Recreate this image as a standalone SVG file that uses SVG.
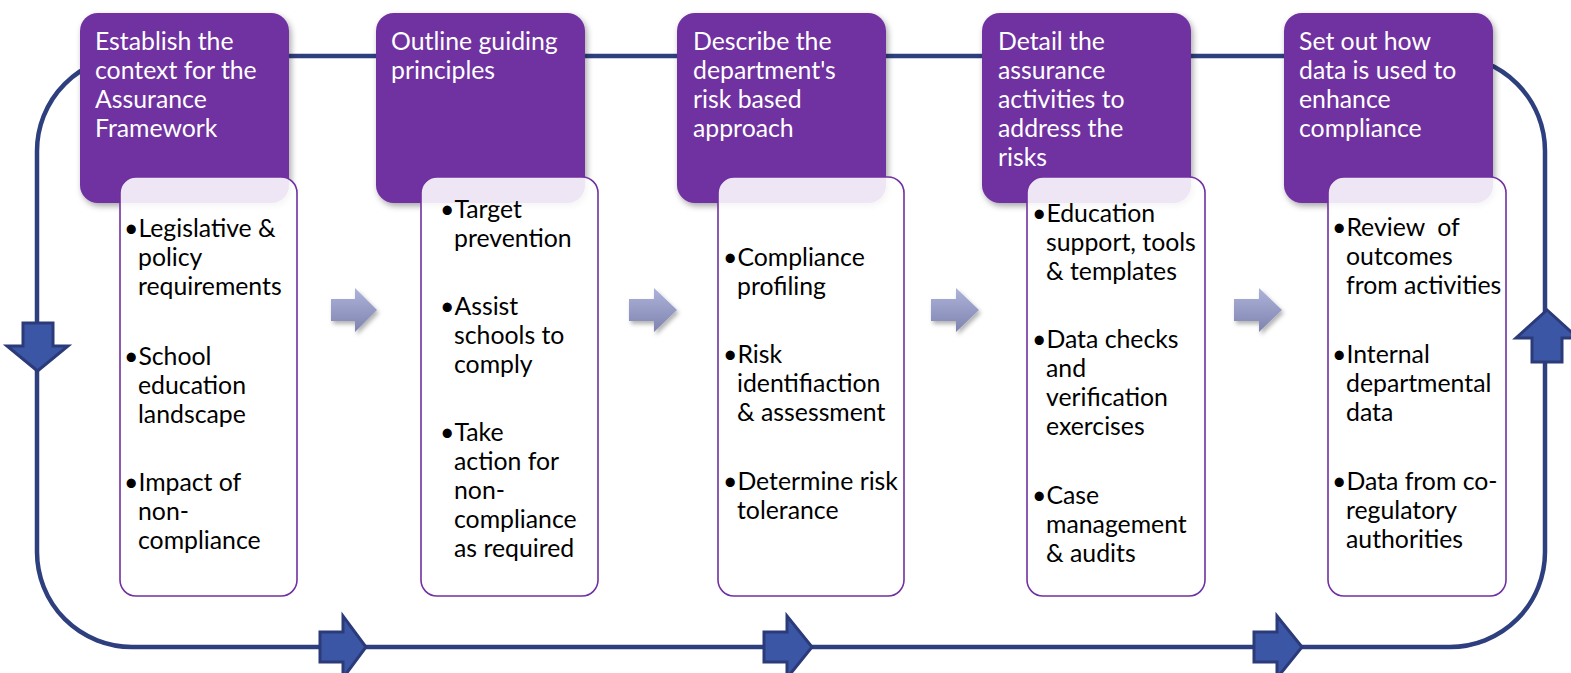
<svg xmlns="http://www.w3.org/2000/svg" width="1571" height="673" viewBox="0 0 1571 673">
<defs>
<style>
.hdr{fill:#7030A0;filter:url(#sh);}
.hdrt{fill:#FFFFFF;font-family:Lato,"Liberation Sans",sans-serif;font-size:24.8px;}
.body{fill:#FFFFFF;fill-opacity:0.88;stroke:#7030A0;stroke-width:1.6;}
.bt{fill:#000000;font-family:Lato,"Liberation Sans",sans-serif;font-size:24.8px;white-space:pre;}
.loop{fill:none;stroke:#2E3F7F;stroke-width:4.5;}
.blk{fill:#3C56A6;stroke:#2B3A78;stroke-width:3;stroke-linejoin:miter;}
.gry{fill:url(#gg);filter:url(#sh2);}
</style>
<linearGradient id="gg" x1="0" y1="0" x2="0" y2="1">
<stop offset="0" stop-color="#AEB3DA"/>
<stop offset="1" stop-color="#7E84AF"/>
</linearGradient>
<filter id="sh" x="-10%" y="-10%" width="125%" height="125%">
<feDropShadow dx="2" dy="3" stdDeviation="3" flood-color="#000" flood-opacity="0.35"/>
</filter>
<filter id="sh2" x="-20%" y="-20%" width="150%" height="150%">
<feDropShadow dx="2" dy="3" stdDeviation="2" flood-color="#000" flood-opacity="0.3"/>
</filter>
</defs>
<rect width="1571" height="673" fill="#FFFFFF"/>

<g id="connectors">
<rect class="loop" x="37" y="56" width="1508" height="591" rx="95" ry="95"/>
<path class="blk" d="M23,323 H53 V346 H68 L37.5,371 L7,346 H23 Z"/>
<path class="blk" d="M320,632 V662 H343 V678 L366,647 L343,616 V632 Z"/>
<path class="blk" d="M764,632 V662 H787 V678 L812,647 L787,616 V632 Z"/>
<path class="blk" d="M1254,632 V662 H1277 V678 L1302,647 L1277,616 V632 Z"/>
<path class="blk" d="M1532,362 V338 H1516 L1547,310 L1578,338 H1562 V362 Z"/>
<path class="gry" d="M331,299 H355 V288 L377,310 L355,332 V321 H331 Z"/>
<path class="gry" d="M629,299 H654 V288 L677,310 L654,332 V321 H629 Z"/>
<path class="gry" d="M931,299 H956 V288 L979,310 L956,332 V321 H931 Z"/>
<path class="gry" d="M1234,299 H1259 V288 L1282,310 L1259,332 V321 H1234 Z"/>
</g>

<g id="node1">
<rect class="hdr" x="80" y="13" width="209" height="190" rx="18"/>
<text class="hdrt"><tspan x="95" y="50">Establish the</tspan><tspan x="95" y="79">context for the</tspan><tspan x="95" y="108">Assurance</tspan><tspan x="95" y="137">Framework</tspan></text>
<rect class="body" x="120" y="177" width="177" height="419" rx="16"/>
<text class="bt"><tspan x="124" y="237">•Legislative &amp;</tspan><tspan x="138" y="266">policy</tspan><tspan x="138" y="295">requirements</tspan><tspan x="124" y="365">•School</tspan><tspan x="138" y="394">education</tspan><tspan x="138" y="423">landscape</tspan><tspan x="124" y="491">•Impact of</tspan><tspan x="138" y="520">non-</tspan><tspan x="138" y="549">compliance</tspan></text>
</g>

<g id="node2">
<rect class="hdr" x="376" y="13" width="209" height="190" rx="18"/>
<text class="hdrt"><tspan x="391" y="50">Outline guiding</tspan><tspan x="391" y="79">principles</tspan></text>
<rect class="body" x="421" y="177" width="177" height="419" rx="16"/>
<text class="bt"><tspan x="440" y="218">•Target</tspan><tspan x="454" y="247">prevention</tspan><tspan x="440" y="315">•Assist</tspan><tspan x="454" y="344">schools to</tspan><tspan x="454" y="373">comply</tspan><tspan x="440" y="441">•Take</tspan><tspan x="454" y="470">action for</tspan><tspan x="454" y="499">non-</tspan><tspan x="454" y="528">compliance</tspan><tspan x="454" y="557">as required</tspan></text>
</g>

<g id="node3">
<rect class="hdr" x="677" y="13" width="209" height="190" rx="18"/>
<text class="hdrt"><tspan x="693" y="50">Describe the</tspan><tspan x="693" y="79">department's</tspan><tspan x="693" y="108">risk based</tspan><tspan x="693" y="137">approach</tspan></text>
<rect class="body" x="718" y="177" width="186" height="419" rx="16"/>
<text class="bt"><tspan x="723" y="266">•Compliance</tspan><tspan x="737" y="295">profiling</tspan><tspan x="723" y="363">•Risk</tspan><tspan x="737" y="392">identifiaction</tspan><tspan x="737" y="421">&amp; assessment</tspan><tspan x="723" y="490">•Determine risk</tspan><tspan x="737" y="519">tolerance</tspan></text>
</g>

<g id="node4">
<rect class="hdr" x="982" y="13" width="209" height="190" rx="18"/>
<text class="hdrt"><tspan x="998" y="50">Detail the</tspan><tspan x="998" y="79">assurance</tspan><tspan x="998" y="108">activities to</tspan><tspan x="998" y="137">address the</tspan><tspan x="998" y="166">risks</tspan></text>
<rect class="body" x="1027" y="177" width="178" height="419" rx="16"/>
<text class="bt"><tspan x="1032" y="222">•Education</tspan><tspan x="1046" y="251">support, tools</tspan><tspan x="1046" y="280">&amp; templates</tspan><tspan x="1032" y="348">•Data checks</tspan><tspan x="1046" y="377">and</tspan><tspan x="1046" y="406">verification</tspan><tspan x="1046" y="435">exercises</tspan><tspan x="1032" y="504">•Case</tspan><tspan x="1046" y="533">management</tspan><tspan x="1046" y="562">&amp; audits</tspan></text>
</g>

<g id="node5">
<rect class="hdr" x="1284" y="13" width="209" height="190" rx="18"/>
<text class="hdrt"><tspan x="1299" y="50">Set out how</tspan><tspan x="1299" y="79">data is used to</tspan><tspan x="1299" y="108">enhance</tspan><tspan x="1299" y="137">compliance</tspan></text>
<rect class="body" x="1328" y="177" width="178" height="419" rx="16"/>
<text class="bt"><tspan x="1332" y="236">•Review  of</tspan><tspan x="1346" y="265">outcomes</tspan><tspan x="1346" y="294">from activities</tspan><tspan x="1332" y="363">•Internal</tspan><tspan x="1346" y="392">departmental</tspan><tspan x="1346" y="421">data</tspan><tspan x="1332" y="490">•Data from co-</tspan><tspan x="1346" y="519">regulatory</tspan><tspan x="1346" y="548">authorities</tspan></text>
</g>
</svg>
